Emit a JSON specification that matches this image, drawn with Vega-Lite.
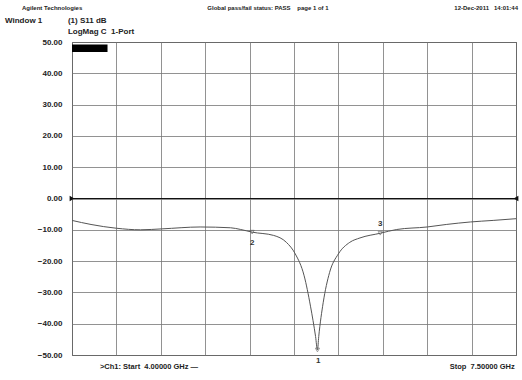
{
  "$schema": "https://vega.github.io/schema/vega-lite/v6.json",
  "width": 444,
  "height": 313,
  "autosize": {"type": "none"},
  "padding": {"left": 72, "top": 42, "right": 6, "bottom": 25},
  "background": "white",
  "config": {
    "view": {"stroke": "#333", "strokeWidth": 1},
    "font": "Liberation Sans"
  },
  "datasets": {
    "trace": [
      {"freq": 4.0, "db": -7.0},
      {"freq": 4.15, "db": -8.3},
      {"freq": 4.35, "db": -9.5},
      {"freq": 4.54, "db": -10.0},
      {"freq": 4.71, "db": -9.7},
      {"freq": 5.01, "db": -9.1},
      {"freq": 5.25, "db": -9.35},
      {"freq": 5.33, "db": -9.9},
      {"freq": 5.42, "db": -10.75},
      {"freq": 5.59, "db": -11.8},
      {"freq": 5.69, "db": -14.0},
      {"freq": 5.76, "db": -17.7},
      {"freq": 5.83, "db": -24.7},
      {"freq": 5.88, "db": -34.4},
      {"freq": 5.92, "db": -44.1},
      {"freq": 5.935, "db": -48.4},
      {"freq": 5.945, "db": -44.1},
      {"freq": 5.98, "db": -33.3},
      {"freq": 6.03, "db": -23.7},
      {"freq": 6.1, "db": -17.7},
      {"freq": 6.19, "db": -14.0},
      {"freq": 6.27, "db": -12.6},
      {"freq": 6.43, "db": -11.1},
      {"freq": 6.56, "db": -9.9},
      {"freq": 6.8, "db": -9.1},
      {"freq": 6.95, "db": -8.3},
      {"freq": 7.14, "db": -7.5},
      {"freq": 7.32, "db": -7.0},
      {"freq": 7.5, "db": -6.45}
    ],
    "markerPts": [
      {"freq": 5.935, "db": -48.4},
      {"freq": 5.42, "db": -10.75},
      {"freq": 6.43, "db": -11.1}
    ],
    "markerLabels": [
      {"freq": 5.94, "db": -52.0, "label": "1"},
      {"freq": 5.42, "db": -14.2, "label": "2"},
      {"freq": 6.43, "db": -8.3, "label": "3"}
    ],
    "textsLeft": [
      {"freq": 3.606, "db": 60.9, "text": "Agilent Technologies", "size": 6},
      {"freq": 3.472, "db": 56.7, "text": "Window 1", "size": 8},
      {"freq": 3.968, "db": 56.7, "text": "(1) S11 dB", "size": 8},
      {"freq": 3.968, "db": 53.2, "text": "LogMag C\u00a0\u00a01-Port", "size": 8},
      {"freq": 4.22, "db": -53.8, "text": ">Ch1: Start\u00a0\u00a04.00000 GHz \u2014", "size": 7.5}
    ],
    "textsCenter": [
      {"freq": 5.545, "db": 60.9, "text": "Global pass/fail status: PASS\u00a0\u00a0\u00a0\u00a0page 1 of 1", "size": 6}
    ],
    "textsRight": [
      {"freq": 7.516, "db": 60.9, "text": "12-Dec-2011\u00a0\u00a0\u00a014:01:44", "size": 6},
      {"freq": 7.49, "db": -53.8, "text": "Stop\u00a0\u00a07.50000 GHz", "size": 7.5}
    ],
    "ref": [
      {"freq": 4.0, "db": 0, "shape": "triangle-right"},
      {"freq": 7.5, "db": 0, "shape": "triangle-left"}
    ],
    "box": [{"freq": 4.0, "freq2": 4.28, "db": 49.2, "db2": 46.8}]
  },
  "encoding": {
    "x": {
      "field": "freq", "type": "quantitative",
      "scale": {"domain": [4, 7.5], "nice": false, "zero": false},
      "axis": {
        "values": [4, 4.35, 4.7, 5.05, 5.4, 5.75, 6.1, 6.45, 6.8, 7.15, 7.5],
        "labels": false, "ticks": false, "domain": false, "title": null,
        "grid": true, "gridColor": "#777", "gridOpacity": 0.8, "gridWidth": 1
      }
    },
    "y": {
      "field": "db", "type": "quantitative",
      "scale": {"domain": [-50, 50], "nice": false, "zero": false},
      "axis": {
        "values": [-50, -40, -30, -20, -10, 0, 10, 20, 30, 40, 50],
        "format": ".2f", "ticks": false, "domain": false, "title": null,
        "labelFontSize": 8, "labelFontWeight": "bold", "labelColor": "#222",
        "labelPadding": 10, "labelOverlap": false, "labelFlush": false,
        "grid": true, "gridColor": "#777", "gridOpacity": 0.8, "gridWidth": 1
      }
    }
  },
  "layer": [
    {
      "data": {"name": "trace"},
      "mark": {"type": "line", "color": "#555", "strokeWidth": 1, "interpolate": "monotone"}
    },
    {
      "data": {"name": "ref"},
      "mark": {"type": "line", "color": "#111", "strokeWidth": 1.2}
    },
    {
      "data": {"name": "ref"},
      "mark": {"type": "point", "filled": true, "color": "#111", "size": 30, "opacity": 1},
      "encoding": {
        "shape": {"field": "shape", "type": "nominal", "scale": null, "legend": null}
      }
    },
    {
      "data": {"name": "box"},
      "mark": {"type": "rect", "color": "#000"},
      "encoding": {
        "x2": {"field": "freq2"},
        "y2": {"field": "db2"}
      }
    },
    {
      "data": {"name": "markerPts"},
      "mark": {"type": "point", "shape": "triangle-down", "color": "#555", "size": 18, "strokeWidth": 0.8}
    },
    {
      "data": {"name": "markerLabels"},
      "mark": {"type": "text", "fontSize": 8, "color": "#333", "fontWeight": "bold"},
      "encoding": {
        "text": {"field": "label"}
      }
    },
    {
      "data": {"name": "textsLeft"},
      "mark": {"type": "text", "align": "left", "baseline": "middle", "color": "#222", "fontWeight": "bold"},
      "encoding": {
        "text": {"field": "text"},
        "size": {"field": "size", "type": "quantitative", "scale": null}
      }
    },
    {
      "data": {"name": "textsCenter"},
      "mark": {"type": "text", "align": "center", "baseline": "middle", "color": "#222", "fontWeight": "bold"},
      "encoding": {
        "text": {"field": "text"},
        "size": {"field": "size", "type": "quantitative", "scale": null}
      }
    },
    {
      "data": {"name": "textsRight"},
      "mark": {"type": "text", "align": "right", "baseline": "middle", "color": "#222", "fontWeight": "bold"},
      "encoding": {
        "text": {"field": "text"},
        "size": {"field": "size", "type": "quantitative", "scale": null}
      }
    }
  ]
}
